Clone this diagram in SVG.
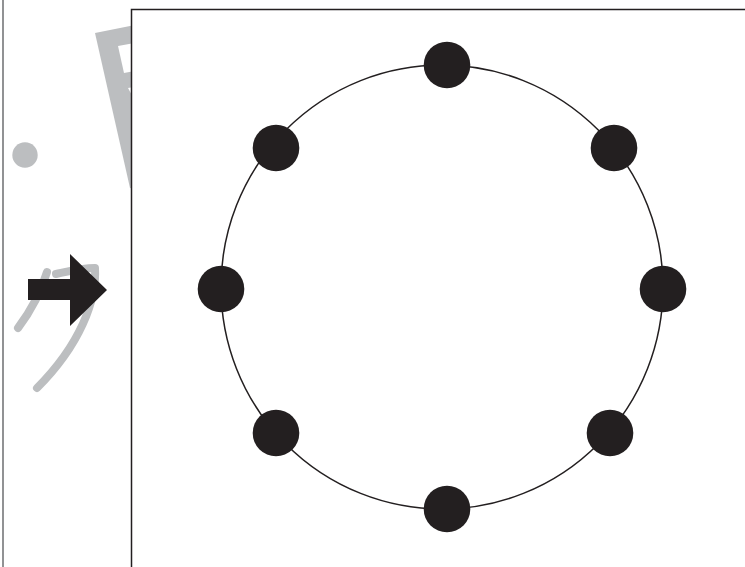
<svg xmlns="http://www.w3.org/2000/svg" width="745" height="567" viewBox="0 0 745 567">
<style>
.g{fill:#bcbec0}
.gs{fill:none;stroke:#bcbec0;stroke-width:8;stroke-linecap:round;stroke-linejoin:round}
.dot{fill:#231f20}
</style>
<rect width="745" height="567" fill="#fff"/>
<g id="left-panel">
<line x1="3" y1="0" x2="3" y2="567" stroke="#6d6e71" stroke-width="1.5"/>
<polygon class="g" points="95,33 140,24 140,190 130,188"/>
<polygon fill="#fff" points="118,46 140,42 140,70 124,73"/>
<polygon fill="#fff" points="128,88 140,86 140,110"/>
<circle class="g" cx="25" cy="155" r="12.7"/>
<path class="gs" d="M47,272 C40,295 30,312 18,328"/>
<path class="gs" d="M56,274 C70,271 82,268 95,268 C97,300 80,345 37,388"/>
<polygon fill="#231f20" points="28,279 70,279 70,254 107,290 70,326 70,300 28,300"/>
</g>
<g id="frame">
<rect x="131.5" y="9.5" width="640" height="600" fill="#fff" stroke="#231f20" stroke-width="1.5"/>
</g>
<g id="connectors">
<ellipse cx="442" cy="287" rx="221" ry="222" fill="none" stroke="#231f20" stroke-width="1.5"/>
</g>
<g id="n1"><circle class="dot" cx="447" cy="65" r="23.3"/></g>
<g id="n2"><circle class="dot" cx="614" cy="148" r="23.3"/></g>
<g id="n3"><circle class="dot" cx="663" cy="289" r="23.3"/></g>
<g id="n4"><circle class="dot" cx="610" cy="433" r="23.3"/></g>
<g id="n5"><circle class="dot" cx="447" cy="509" r="23.3"/></g>
<g id="n6"><circle class="dot" cx="276" cy="433" r="23.3"/></g>
<g id="n7"><circle class="dot" cx="221" cy="289" r="23.3"/></g>
<g id="n8"><circle class="dot" cx="276" cy="148" r="23.3"/></g>
</svg>
